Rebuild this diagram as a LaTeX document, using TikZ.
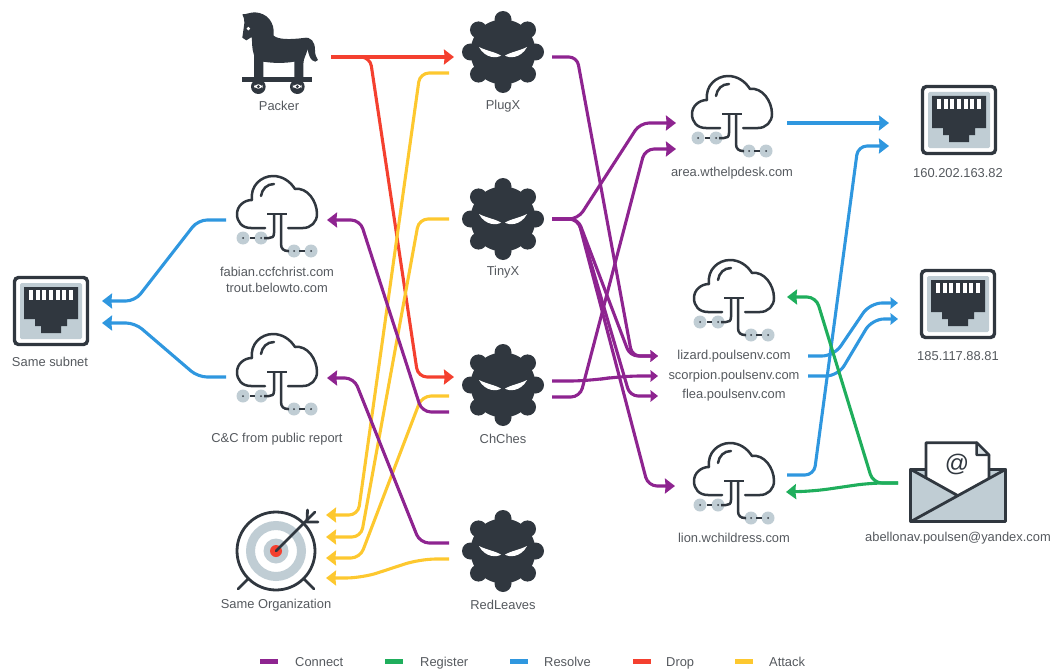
\documentclass[tikz,border=0pt]{standalone}
\usepackage{fontspec}
\setmainfont{Liberation Sans}
\usetikzlibrary{arrows.meta}
\definecolor{ink}{HTML}{30373F}
\definecolor{pale}{HTML}{C0CDD4}
\definecolor{txt}{HTML}{55595E}
\definecolor{cconnect}{HTML}{8E2490}
\definecolor{cregister}{HTML}{1FAE5C}
\definecolor{cresolve}{HTML}{2F97DF}
\definecolor{cdrop}{HTML}{F4402F}
\definecolor{cattack}{HTML}{FDC82F}
\tikzset{
  x=1pt,y=-1pt,
  anchorbox/.style={inner sep=0pt,outer sep=0pt,minimum width=#1,minimum height=#1},
  lab/.style={inner sep=0pt,text=txt,font=\fontsize{12.9}{15.8}\selectfont,align=center},
  link/.style={line width=3.1pt,rounded corners=9pt,-{Stealth[length=10pt,width=15pt,inset=0.6pt]}},
  linksmall/.style={line width=3.1pt,rounded corners=8pt,-{Stealth[length=7.5pt,width=11.5pt,inset=0.5pt]}},
  connect/.style={link,cconnect}, connectsmall/.style={linksmall,cconnect},
  register/.style={link,cregister},
  resolve/.style={link,cresolve}, resolvesmall/.style={linksmall,cresolve},
  dropl/.style={link,cdrop},
  attack/.style={link,cattack},
  cloudicon/.pic={
    \draw[ink,line width=2.5pt,line cap=round,line join=round]
      (-12,14) -- (-26,14) .. controls (-35,14) and (-40,8) .. (-40,0)
      .. controls (-40,-8) and (-33,-14) .. (-25,-14)
      .. controls (-27,-28) and (-16,-38) .. (-4,-38)
      .. controls (5,-38) and (13,-33) .. (18,-25)
      .. controls (30,-27) and (40,-13) .. (40,0)
      .. controls (40,8) and (34,14) .. (26,14) -- (11,14);
    \draw[ink,line width=2.5pt,line cap=round] (-16,-18) .. controls (-15,-25) and (-10,-30) .. (-3,-30);
    \fill[pale] (-34,24) circle (6.5) (-16,24) circle (6.5) (17,37) circle (6.5) (34,37) circle (6.5);
    \draw[ink,line width=2.5pt] (-10,0) -- (10,0);
    \draw[ink,line width=2.5pt] (-3,0) -- (-3,19) .. controls (-3,23) and (-5,24) .. (-8,24) -- (-13,24);
    \draw[ink,line width=2.5pt] (-27,24) -- (-22,24);
    \draw[ink,line width=2.5pt] (4,0) -- (4,30) .. controls (4,35) and (7,37) .. (11,37) -- (12,37);
    \draw[ink,line width=2.5pt] (22,37) -- (28,37);
    \fill[ink] (-34,24) circle (1) (-16,24) circle (1) (17,37) circle (1) (34,37) circle (1);
  },
  maltaicon/.pic={
    \fill[ink] (0,0) circle (32.5);
    \foreach \a in {0,90,180,270} { \fill[ink] (\a:32.5) circle (8.5); }
    \foreach \a in {42,138,222,318} { \fill[ink] (\a:33) circle (8.5); }
    \fill[white] (-24,-5) .. controls (-16,-1) and (-8,0) .. (-2,3.5) .. controls (-6,6.5) and (-18,6.5) .. (-24,-5) -- cycle;
    \fill[white] (24,-5) .. controls (16,-1) and (8,0) .. (2,3.5) .. controls (6,6.5) and (18,6.5) .. (24,-5) -- cycle;
  },
  rjicon/.pic={
    \draw[ink,line width=3.4pt,fill=white,rounded corners=4pt] (-36.5,-33.5) rectangle (36.5,33.5);
    \fill[pale,rounded corners=1.5pt] (-31,-28) rectangle (31,28);
    \fill[ink] (-27,-24) -- (27,-24) -- (27,8) -- (16,8) -- (16,15) -- (10,15) -- (10,22) -- (-10,22) -- (-10,15) -- (-16,15) -- (-16,8) -- (-27,8) -- cycle;
    \foreach \i in {-3,...,3} { \fill[white] ({\i*6.6-2},-21) rectangle ({\i*6.6+2},-11); }
  }
}
\begin{document}
\begin{tikzpicture}
\useasboundingbox (0,0) rectangle (1050,669);
% ---- icon anchors
\node[anchorbox=80] (packer) at (279,52) {};
\node[anchorbox=80] (plugx) at (503,52) {};
\node[anchorbox=80] (tinyx) at (503,219) {};
\node[anchorbox=80] (chches) at (503,385) {};
\node[anchorbox=80] (redleaves) at (503,551) {};
\node[anchorbox=80] (fabian) at (277,214) {};
\node[anchorbox=80] (cnc) at (277,372) {};
\node[anchorbox=80] (org) at (276,551) {};
\node[anchorbox=76] (subnet) at (51,311) {};
\node[anchorbox=80] (area) at (732,114) {};
\node[anchorbox=80] (lizardcloud) at (734,298) {};
\node[anchorbox=80] (lion) at (734,481) {};
\node[anchorbox=76] (ipa) at (959,120) {};
\node[anchorbox=76] (ipb) at (958,304) {};
\node[anchorbox=80] (mail) at (958,470) {};
% ---- text labels
\node[lab] (lpacker) at (279,106) {Packer};
\node[lab] (lplugx) at (503,106) {PlugX};
\node[lab] (ltinyx) at (503,272) {TinyX};
\node[lab] (lchches) at (503,439) {ChChes};
\node[lab] (lredleaves) at (503,605) {RedLeaves};
\node[lab] (lorg) at (276,605) {Same Organization};
\node[lab] (lfabian) at (277,280) {fabian.ccfchrist.com\\trout.belowto.com};
\node[lab] (lcnc) at (277,439) {C\&C from public report};
\node[lab] (lsubnet) at (50,362) {Same subnet};
\node[lab] (larea) at (732,173) {area.wthelpdesk.com};
\node[lab] (lipa) at (958,173) {160.202.163.82};
\node[lab] (lizard) at (734,356) {lizard.poulsenv.com};
\node[lab] (scorpion) at (734,376) {scorpion.poulsenv.com};
\node[lab] (flea) at (734,395) {flea.poulsenv.com};
\node[lab] (llion) at (734,538) {lion.wchildress.com};
\node[lab] (lipb) at (958,356) {185.117.88.81};
\node[lab] (lmail) at (958,538) {abellonav.poulsen@yandex.com};
% ---- icons
\pic at (plugx.center) {maltaicon};
\pic at (tinyx.center) {maltaicon};
\pic at (chches.center) {maltaicon};
\pic at (redleaves.center) {maltaicon};
\pic at (fabian.center) {cloudicon};
\pic at (cnc.center) {cloudicon};
\pic at (area.center) {cloudicon};
\pic at (lizardcloud.center) {cloudicon};
\pic at (lion.center) {cloudicon};
\pic at (subnet.center) {rjicon};
\pic at (ipa.center) {rjicon};
\pic at (ipb.center) {rjicon};
% horse
\begin{scope}[shift={(235,5)},x=0.3333pt,y=-0.3333pt]
  \fill[ink] (22,98) -- (28,55) .. controls (28,42) and (26,35) .. (22,28) .. controls (35,28) and (45,22) .. (60,22)
    .. controls (95,24) and (120,50) .. (116,92) .. controls (130,104) and (165,104) .. (205,99)
    .. controls (228,94) and (240,110) .. (240,135) .. controls (240,150) and (244,158) .. (249,165)
    .. controls (240,178) and (222,165) .. (218,132) .. controls (214,150) and (205,160) .. (205,178)
    -- (205,220) -- (178,220) -- (178,170) .. controls (150,175) and (115,175) .. (85,170) -- (85,220) -- (57,220)
    -- (57,150) .. controls (50,130) and (52,112) .. (50,96) -- (34,106) -- cycle;
  \fill[white] (40,71) circle (5.5);
  \fill[ink] (20,217) rectangle (232,232);
  \fill[ink] (70,245) circle (22) (187,245) circle (22);
  \fill[white,rounded corners=4pt] (57,238) rectangle (83,251);
  \fill[white,rounded corners=4pt] (174,238) rectangle (200,251);
  \fill[ink] (70,245) circle (5) (187,245) circle (5);
\end{scope}
% target
\begin{scope}[shift={(org.center)}]
  \draw[ink,line width=2.8pt,line cap=round] (-27,27) -- (-38,38) (27,27) -- (38,38);
  \draw[ink,line width=2.8pt,fill=white] (0,0) circle (39);
  \draw[pale,line width=9pt] (0,0) circle (25.5);
  \fill[pale] (0,0) circle (12.5);
  \fill[cdrop] (0,0) circle (6);
  \draw[ink,line width=2.8pt,line cap=round] (0,0) -- (39,-39);
  \draw[ink,line width=2.8pt,line cap=round,line join=miter] (31.5,-41) -- (31,-29) -- (42,-29);
\end{scope}
% envelope
\begin{scope}[shift={(840,420)},x=0.3333pt,y=-0.3333pt]
  \fill[pale] (212,148) rectangle (497,305);
  \fill[white] (258,68) -- (410,68) -- (447,105) -- (447,175) -- (350,225) -- (258,175) -- cycle;
  \draw[ink,line width=2.8pt,line join=round] (258,175) -- (258,68) -- (410,68) -- (447,105) -- (447,175);
  \draw[ink,line width=2.4pt,fill=pale!60!white,line join=round] (410,68) -- (410,105) -- (447,105) -- cycle;
  \fill[pale] (212,148) -- (350,225) -- (497,148) -- (497,305) -- (212,305) -- cycle;
  \draw[ink,line width=2.8pt,line join=round] (258,148) -- (212,148) -- (212,305) -- (497,305) -- (497,148) -- (447,148);
  \draw[ink,line width=2.8pt,line cap=round] (212,148) -- (350,225) (497,148) -- (212,305);
  \node[inner sep=0pt,text=ink,font=\fontsize{24}{24}\selectfont] (at) at (351,133) {@};
\end{scope}
% ---- connectors
\draw[dropl] ([shift={(52,5)}]packer.center) -- ([shift={(-49,5)}]plugx.center);
\draw[dropl] ([shift={(52,5)}]packer.center) -- (370,57) -- (418,377) -- ([shift={(-49,-8)}]chches.center);
\draw[attack] ([shift={(-54,21)}]plugx.center) -- (420,73) -- (358,515) -- ([shift={(50,-36)}]org.center);
\draw[attack] ([shift={(-54,0)}]tinyx.center) -- (419,219) -- (361,537) -- ([shift={(50,-14)}]org.center);
\draw[attack] ([shift={(-54,11)}]chches.center) -- (422,396) -- (360,558) -- ([shift={(50,7)}]org.center);
\draw[attack,rounded corners=16pt] ([shift={(-54,8)}]redleaves.center) -- (420,559) -- (362,578) -- ([shift={(50,27)}]org.center);
\draw[connect] ([shift={(-54,27)}]chches.center) -- (422,412) -- (360,220) -- ([shift={(50,6)}]fabian.center);
\draw[connect] ([shift={(-54,-8)}]redleaves.center) -- (420,543) -- (354,378) -- ([shift={(50,6)}]cnc.center);
\draw[connectsmall] ([shift={(49,5)}]plugx.center) -- (577,57) -- (632,356) -- ([shift={(-76,0)}]lizard.center);
\draw[connect] ([shift={(49,0)}]tinyx.center) -- (578,219) -- (640,123) -- ([shift={(-56,9)}]area.center);
\draw[connectsmall] ([shift={(49,0)}]tinyx.center) -- (578,219) -- (630,356) -- ([shift={(-76,0)}]lizard.center);
\draw[connectsmall] ([shift={(49,0)}]tinyx.center) -- (578,219) -- (630,396) -- ([shift={(-76,1)}]flea.center);
\draw[connect] ([shift={(49,0)}]tinyx.center) -- (578,219) -- (648,486) -- ([shift={(-59,5)}]lion.center);
\draw[connectsmall,rounded corners=20pt] ([shift={(49,-4)}]chches.center) -- (590,381) -- (620,376) -- ([shift={(-76,0)}]scorpion.center);
\draw[connect] ([shift={(49,12)}]chches.center) -- (580,397) -- (645,149) -- ([shift={(-56,35)}]area.center);
\draw[resolve] ([shift={(55,9)}]area.center) -- ([shift={(-70,3)}]ipa.center);
\draw[resolve] ([shift={(53,-6)}]lion.center) -- (814,475) -- (858,146) -- ([shift={(-70,26)}]ipa.center);
\draw[resolvesmall,rounded corners=12pt] ([shift={(74,0)}]lizard.center) -- (834,356) -- (870,303) -- ([shift={(-60,-1)}]ipb.center);
\draw[resolvesmall,rounded corners=12pt] ([shift={(74,0)}]scorpion.center) -- (838,376) -- (872,319) -- ([shift={(-60,15)}]ipb.center);
\draw[register] ([shift={(-60,13)}]mail.center) -- (873,483) -- (816,297) -- ([shift={(53,-1)}]lizardcloud.center);
\draw[register,rounded corners=14pt] ([shift={(-60,13)}]mail.center) -- (870,483) -- (815,491) -- ([shift={(52,11)}]lion.center);
\draw[resolve] ([shift={(-51,6)}]fabian.center) -- (198,220) -- (135,301) -- ([shift={(51,-10)}]subnet.center);
\draw[resolve] ([shift={(-51,5)}]cnc.center) -- (198,377) -- (135,323) -- ([shift={(51,12)}]subnet.center);
% ---- legend
\foreach \nm/\col/\x/\tx/\lb in {a/cconnect/260/295/Connect,b/cregister/385/420/Register,c/cresolve/510/544/Resolve,d/cdrop/633/666/Drop,e/cattack/735/769/Attack}{
  \fill[\col] (\x,659) rectangle (\x+18,664);
  \node[lab,anchor=base west] (leg\nm) at (\tx,666) {\lb};
}
\end{tikzpicture}
\end{document}
